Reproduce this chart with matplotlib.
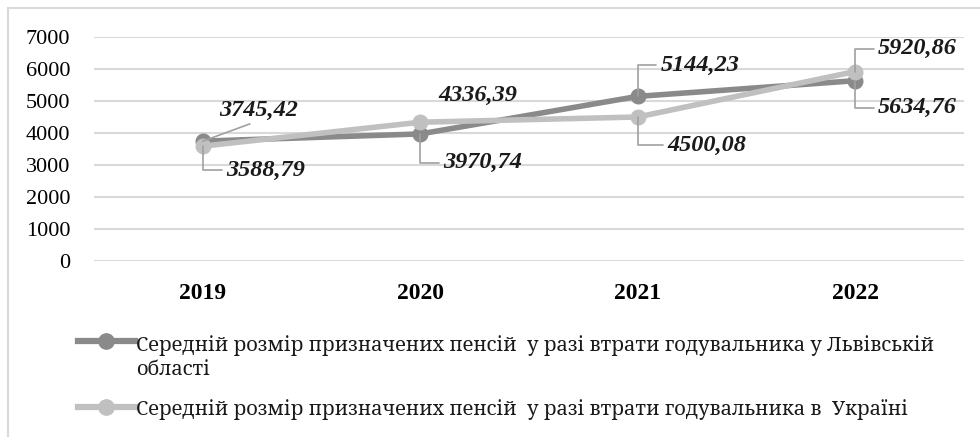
import matplotlib.pyplot as plt
from matplotlib.lines import Line2D
from matplotlib.patches import Rectangle

years = ["2019", "2020", "2021", "2022"]
lviv = [3745.42, 3970.74, 5144.23, 5634.76]
ukraine = [3588.79, 4336.39, 4500.08, 5920.86]
lviv_label = "Середній розмір призначених пенсій  у разі втрати годувальника у Львівській\nобласті"
ukraine_label = "Середній розмір призначених пенсій  у разі втрати годувальника в  Україні"

DARK = "#8a8a8a"
LIGHT = "#c0c0c0"

plt.rcParams["font.family"] = "Liberation Serif"

fig = plt.figure(figsize=(9.8, 4.37), dpi=100)
# outer chart border (cut off right and bottom)
fig.patches.append(Rectangle((8 / 980, -0.1), 1.2, 1 - 8 / 437 + 0.1,
                             transform=fig.transFigure, fill=False,
                             edgecolor="#d9d9d9", linewidth=1.5))

ax = fig.add_axes([94 / 980, 1 - 261 / 437, 870 / 980, 224 / 437])
x = range(len(years))
ax.plot(x, lviv, color=DARK, linewidth=4, marker="o", markersize=10.5, zorder=3)
ax.plot(x, ukraine, color=LIGHT, linewidth=4, marker="o", markersize=10.5, zorder=4)

ax.set_xlim(-0.5, len(years) - 0.5)
ax.set_ylim(0, 7000)
ax.set_yticks(range(0, 7001, 1000))
ax.set_xticks(list(x))
ax.set_xticklabels(years, fontweight="bold", fontsize=17)
ax.tick_params(axis="y", labelsize=16, length=0, pad=17)
ax.tick_params(axis="x", length=0, pad=16)
ax.grid(axis="y", color="#d9d9d9", linewidth=1.5)
ax.set_axisbelow(True)
for s in ax.spines.values():
    s.set_visible(False)

# data labels: (series, index, offset in pixels, connection style, relpos)
elbow = "angle,angleA=0,angleB=90,rad=0"
labels = [
    (lviv, 0, (56, 31), "arc3", (0.5, 0.0)),
    (ukraine, 0, (63, -24), elbow, (0.0, 0.5)),
    (lviv, 1, (62, -29), elbow, (0.0, 0.5)),
    (ukraine, 1, (58, 27), None, None),
    (lviv, 2, (62, 31), elbow, (0.0, 0.5)),
    (ukraine, 2, (69, -28), elbow, (0.0, 0.5)),
    (lviv, 3, (62, -27), elbow, (0.0, 0.5)),
    (ukraine, 3, (62, 23), elbow, (0.0, 0.5)),
]
for series, i, off, conn, rel in labels:
    val = f"{series[i]:.2f}".replace(".", ",")
    arrow = None
    if conn:
        arrow = dict(arrowstyle="-", connectionstyle=conn, relpos=rel,
                     color="#a0a0a0", linewidth=1.2, shrinkA=1, shrinkB=0)
    ax.annotate(val, (i, series[i]), xytext=off, textcoords="offset pixels",
                ha="center", va="center", fontsize=17.5, fontweight="bold",
                fontstyle="italic", color="#1a1a1a", arrowprops=arrow,
                zorder=6, annotation_clip=False)

# legend drawn by hand so the marker sits on the first text line
# Noto Serif: Liberation Serif's Cyrillic renders too wide/sans here
# (label, colour, handle y px, text top y px)
legend_rows = [(lviv_label, DARK, 341, 335), (ukraine_label, LIGHT, 407, 399)]
for text, color, ypx, top in legend_rows:
    yf = 1 - ypx / 437
    fig.add_artist(Line2D([78 / 980, 135 / 980], [yf, yf], color=color,
                          linewidth=4.5, transform=fig.transFigure))
    fig.add_artist(Line2D([106 / 980], [yf], color=color, marker="o",
                          markersize=11, transform=fig.transFigure))
    fig.text(136 / 980, 1 - top / 437, text, family="Noto Serif",
             fontsize=14.4, va="top", ha="left", linespacing=1.3,
             color="#1a1a1a")

fig.savefig("out.png", dpi=100)
